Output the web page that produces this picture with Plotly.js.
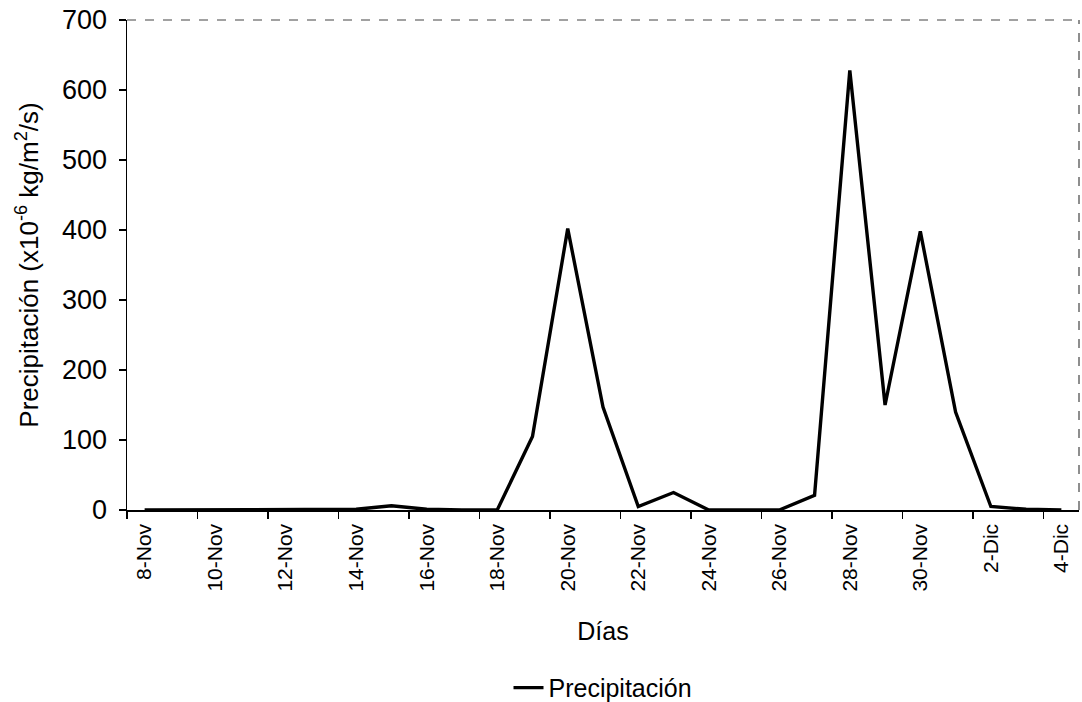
<!DOCTYPE html>
<html>
<head>
<meta charset="utf-8">
<script src="https://cdn.plot.ly/plotly-3.0.1.min.js"></script>
<style>html,body{margin:0;padding:0;background:#fff;}#chart{width:1082px;height:702px;}</style>
</head>
<body>
<div id="chart"></div>
<script>
var days = ["8-Nov","9-Nov","10-Nov","11-Nov","12-Nov","13-Nov","14-Nov","15-Nov","16-Nov","17-Nov",
            "18-Nov","19-Nov","20-Nov","21-Nov","22-Nov","23-Nov","24-Nov","25-Nov","26-Nov","27-Nov",
            "28-Nov","29-Nov","30-Nov","1-Dic","2-Dic","3-Dic","4-Dic"];
var precipitacion = [0,0,0,0,0,0,1,6,1,0,
                     0,105,402,147,5,25,0,0,0,21,
                     628,150,398,140,5,1,0];
var yTicks = [0,100,200,300,400,500,600,700];

var trace = {
  x: days, y: precipitacion, type: 'scatter', mode: 'lines',
  name: 'Precipitación',
  line: {color: '#000', width: 3.4}
};
var layout = {
  width: 1082, height: 702,
  margin: {l: 127, r: 3, t: 20, b: 192, autoexpand: false},
  paper_bgcolor: '#fff', plot_bgcolor: '#fff',
  font: {family: 'Liberation Sans, Arial, sans-serif', color: '#000'},
  showlegend: true,
  legend: {orientation: 'h', x: 0.5, xanchor: 'center', y: -0.363, yanchor: 'middle',
           font: {size: 25, color: '#000'}},
  xaxis: {
    type: 'category', range: [-0.5, 26.5], automargin: false,
    tickson: 'boundaries', dtick: 2, tick0: 0,
    tickangle: -90, ticks: 'outside', ticklen: 7, tickcolor: '#000', tickwidth: 1.5,
    ticklabelstandoff: 4,
    tickfont: {size: 21, color: '#000', family: 'Liberation Sans, Arial, sans-serif'},
    showline: true, linecolor: '#000', linewidth: 1.5,
    showgrid: false, zeroline: false,
    title: {text: 'Días', font: {size: 25, color: '#000'}, standoff: 32}
  },
  yaxis: {
    range: [0, 700], tickvals: yTicks, automargin: false,
    ticks: 'outside', ticklen: 7, tickcolor: '#000', tickwidth: 1.5,
    ticklabelstandoff: 6,
    tickfont: {size: 27, color: '#000'},
    showline: true, linecolor: '#000', linewidth: 1.5,
    showgrid: false, zeroline: false,
    title: {text: 'Precipitación (x10<sup>-6</sup> kg/m<sup>2</sup>/s)', font: {size: 26, color: '#000'}, standoff: 16}
  },
  shapes: [
    {type: 'line', xref: 'paper', yref: 'paper', x0: 0, x1: 1, y0: 1, y1: 1,
     line: {color: '#444', width: 1.2, dash: 'dash'}},
    {type: 'line', xref: 'paper', yref: 'paper', x0: 1, x1: 1, y0: 0, y1: 1,
     line: {color: '#444', width: 1.2, dash: 'dash'}}
  ]
};
Plotly.newPlot('chart', [trace], layout, {displayModeBar: false, staticPlot: true});
</script>
</body>
</html>
